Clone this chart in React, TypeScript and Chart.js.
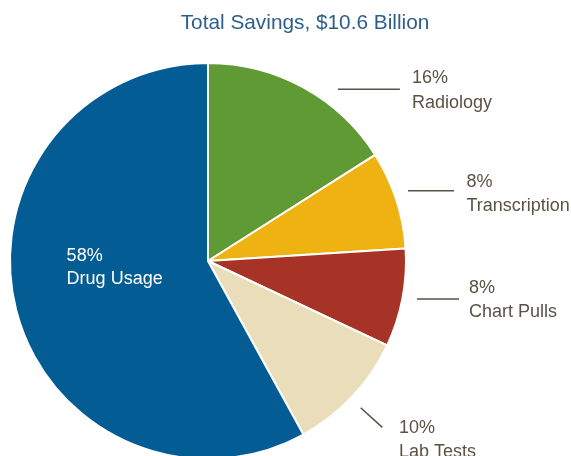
import React, { useEffect, useRef } from "react";
import { Chart, ArcElement, PieController } from "chart.js";

Chart.register(ArcElement, PieController);

const TITLE = "Total Savings, $10.6 Billion";
const categories = ["Radiology", "Transcription", "Chart Pulls", "Lab Tests", "Drug Usage"];
const shares = [16, 8, 8, 10, 58];
const percentLabels = ["16%", "8%", "8%", "10%", "58%"];
const sliceColors = ["#5f9a35", "#eeb212", "#a63326", "#e9ddba", "#035c94"];

// label placement relative to each slice's mid-point on the rim
const labelLayout = [
  { kind: "h", sx: 35, sy: 1, len: 62, tx: 12, b1: -6, b2: 19 },
  { kind: "h", sx: 12.6, sy: -9.4, len: 46, tx: 12.5, b1: -4, b2: 20 },
  { kind: "h", sx: 15.5, sy: 1, len: 42, tx: 10, b1: -6, b2: 18 },
  { kind: "d", sx: 9.1, sy: 11.9, ex: 30.7, ey: 31.5, tx: 16.7, b1: 6, b2: 30 },
  { kind: "in", rf: 0.72, tx: -4, b1: -35, b2: -12 },
];

const LABEL_FONT = '18px "Liberation Sans", Arial, sans-serif';
const TITLE_FONT = '20.8px "Liberation Sans", Arial, sans-serif';
const TEXT_COLOR = "#5a5245";
const TITLE_COLOR = "#2d5e8d";

const labelPlugin = {
  id: "pieLabels",
  afterDraw(chart: any) {
    const ctx = chart.ctx;
    ctx.save();
    ctx.font = TITLE_FONT;
    ctx.fillStyle = TITLE_COLOR;
    ctx.textAlign = "center";
    ctx.textBaseline = "alphabetic";
    ctx.fillText(TITLE, 305, 29);

    const meta = chart.getDatasetMeta(0);
    meta.data.forEach((el: any, i: number) => {
      const p = el.getProps(["x", "y", "startAngle", "endAngle", "outerRadius"], true);
      const mid = (p.startAngle + p.endAngle) / 2;
      const R = p.outerRadius - 1;
      const L: any = labelLayout[i];
      ctx.font = LABEL_FONT;
      ctx.textAlign = "left";
      if (L.kind === "in") {
        const ax = p.x + Math.cos(mid) * R * L.rf;
        const ay = p.y + Math.sin(mid) * R * L.rf;
        ctx.fillStyle = "#ffffff";
        ctx.fillText(percentLabels[i], ax + L.tx, ay + L.b1);
        ctx.fillText(categories[i], ax + L.tx, ay + L.b2);
        return;
      }
      const ax = p.x + Math.cos(mid) * R;
      const ay = p.y + Math.sin(mid) * R;
      let x1 = ax + L.sx, y1 = ay + L.sy, x2: number, y2: number;
      if (L.kind === "h") {
        x2 = x1 + L.len;
        y2 = y1;
      } else {
        x2 = ax + L.ex;
        y2 = ay + L.ey;
      }
      ctx.strokeStyle = TEXT_COLOR;
      ctx.lineWidth = 1.5;
      ctx.beginPath();
      ctx.moveTo(x1, y1);
      ctx.lineTo(x2, y2);
      ctx.stroke();
      ctx.fillStyle = TEXT_COLOR;
      ctx.fillText(percentLabels[i], x2 + L.tx, y2 + L.b1);
      ctx.fillText(categories[i], x2 + L.tx, y2 + L.b2);
    });
    ctx.restore();
  },
};

export default function App() {
  const ref = useRef<HTMLCanvasElement | null>(null);
  useEffect(() => {
    if (!ref.current) return;
    const chart = new Chart(ref.current, {
      type: "pie",
      data: {
        labels: categories,
        datasets: [
          {
            data: shares,
            backgroundColor: sliceColors,
            borderColor: "#ffffff",
            borderWidth: 2,
          },
        ],
      },
      options: {
        responsive: false,
        animation: false,
        radius: 198,
        layout: { padding: { left: 0, right: 155, top: 42, bottom: 0 } },
        plugins: { legend: { display: false }, tooltip: { enabled: false } },
        events: [],
      } as any,
      plugins: [labelPlugin],
    });
    return () => chart.destroy();
  }, []);
  return (
    <div
      style={{
        position: "fixed",
        left: 0,
        top: 0,
        width: 571,
        height: 456,
        overflow: "hidden",
        background: "#ffffff",
      }}
    >
      <canvas ref={ref} width={571} height={480} style={{ display: "block", width: 571, height: 480 }} />
    </div>
  );
}
